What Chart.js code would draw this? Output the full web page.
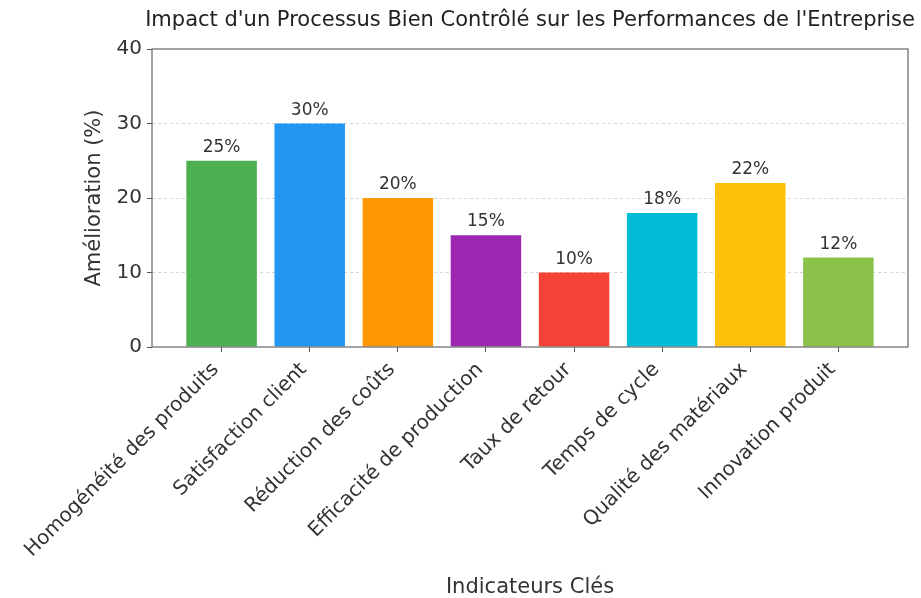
<!DOCTYPE html>
<html>
<head>
<meta charset="utf-8">
<script src="https://cdn.jsdelivr.net/npm/chart.js@4"></script>
<style>
  html, body { margin: 0; padding: 0; background: #fff; }
  #wrap { width: 921px; height: 598px; }
</style>
</head>
<body>
<div id="wrap"><canvas id="chart" width="921" height="598"></canvas></div>
<script>
// Data
const categories = ['Homogénéité des produits', 'Satisfaction client', 'Réduction des coûts',
    'Efficacité de production', 'Taux de retour', 'Temps de cycle', 'Qualité des matériaux', 'Innovation produit'];
const improvements = [25, 30, 20, 15, 10, 18, 22, 12];
const barColors = ['#4CAF50', '#2196F3', '#FF9800', '#9C27B0', '#F44336', '#00BCD4', '#FFC107', '#8BC34A'];
const yTicks = [0, 10, 20, 30, 40];
const chartTitle = "Impact d'un Processus Bien Contrôlé sur les Performances de l'Entreprise";

const FONT = 'DejaVu Sans';
const TEXT = '#333';

// frame around the plot area (matplotlib style spines) + title centred over the axes
const framePlugin = {
    id: 'frame',
    afterDraw(chart) {
        const {ctx, chartArea: a} = chart;
        ctx.save();
        ctx.strokeStyle = '#666';
        ctx.lineWidth = 1.2;
        ctx.strokeRect(a.left, a.top, a.right - a.left, a.bottom - a.top);
        ctx.font = '21px "' + FONT + '"';
        ctx.fillStyle = '#222';
        ctx.textAlign = 'center';
        ctx.textBaseline = 'middle';
        ctx.fillText(chartTitle, (a.left + a.right) / 2, 21);
        ctx.restore();
    }
};

// value labels above the bars
const valueLabels = {
    id: 'valueLabels',
    afterDatasetsDraw(chart) {
        const {ctx} = chart;
        const meta = chart.getDatasetMeta(0);
        ctx.save();
        ctx.font = '17px "' + FONT + '"';
        ctx.fillStyle = TEXT;
        ctx.textAlign = 'center';
        ctx.textBaseline = 'alphabetic';
        meta.data.forEach((bar, i) => {
            ctx.fillText(improvements[i] + '%', bar.x, bar.y - 9);
        });
        ctx.restore();
    }
};

new Chart(document.getElementById('chart'), {
    type: 'bar',
    data: {
        datasets: [{
            data: improvements.map((v, i) => ({x: i, y: v})),
            backgroundColor: barColors,
            borderWidth: 0,
            barPercentage: 0.8,
            categoryPercentage: 1
        }]
    },
    options: {
        responsive: false,
        animation: false,
        layout: {padding: {left: 0, right: 13, top: 49, bottom: 0}},
        plugins: {
            legend: {display: false},
            tooltip: {enabled: false},
            title: {display: false}
        },
        scales: {
            x: {
                type: 'linear',
                min: -0.79,
                max: 7.79,
                offset: false,
                afterBuildTicks(scale) {
                    scale.ticks = categories.map((c, i) => ({value: i}));
                },
                afterFit(scale) {
                    scale.height = 251;
                    scale.paddingLeft = 0;
                    scale.paddingRight = 0;
                },
                ticks: {
                    autoSkip: false,
                    minRotation: 45,
                    maxRotation: 45,
                    padding: 6,
                    labelOffset: -6,
                    color: TEXT,
                    font: {family: FONT, size: 20},
                    callback: v => categories[v]
                },
                grid: {drawOnChartArea: false, offset: false, tickLength: 5, tickColor: '#555'},
                border: {display: false},
                title: {
                    display: true,
                    text: 'Indicateurs Clés',
                    color: TEXT,
                    font: {family: FONT, size: 21},
                    padding: {top: 0, bottom: -2}
                }
            },
            y: {
                min: 0,
                max: 40,
                afterBuildTicks(scale) {
                    scale.ticks = yTicks.map(v => ({value: v}));
                },
                afterFit(scale) {
                    scale.width = 152;
                    scale.paddingTop = 0;
                    scale.paddingBottom = 0;
                },
                ticks: {
                    padding: 5,
                    color: TEXT,
                    font: {family: FONT, size: 20}
                },
                grid: {
                    tickLength: 5,
                    tickColor: '#555',
                    color: c => (c.tick && c.tick.value > 0 && c.tick.value < 40) ? '#d4d4d4' : 'rgba(0,0,0,0)'
                },
                border: {display: false, dash: [3, 3]},
                title: {
                    display: true,
                    text: 'Amélioration (%)',
                    color: TEXT,
                    font: {family: FONT, size: 21},
                    padding: {top: 82, bottom: 0}
                }
            }
        }
    },
    plugins: [framePlugin, valueLabels]
});
</script>
</body>
</html>
